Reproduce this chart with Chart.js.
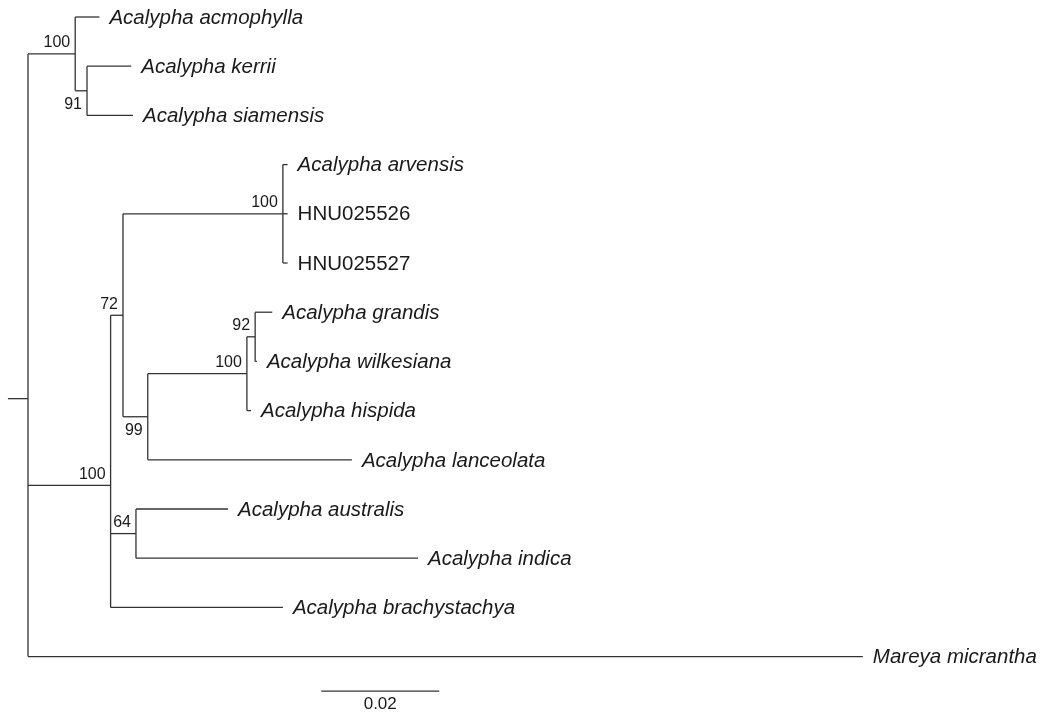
<!DOCTYPE html>
<html>
<head>
<meta charset="utf-8">
<script src="https://cdn.jsdelivr.net/npm/chart.js@4.4.1/dist/chart.umd.min.js"></script>
<style>
  html, body { margin: 0; padding: 0; background: #fff; }
  #wrap { width: 1042px; height: 714px; position: relative; }
</style>
</head>
<body>
<div id="wrap"><canvas id="arbre"></canvas></div>
<script>
// feuilles de l'arbre (ordre de haut en bas)
const tipNames = [
    'Acalypha acmophylla', 'Acalypha kerrii', 'Acalypha siamensis',
    'Acalypha arvensis', 'HNU025526', 'HNU025527',
    'Acalypha grandis', 'Acalypha wilkesiana', 'Acalypha hispida',
    'Acalypha lanceolata', 'Acalypha australis', 'Acalypha indica',
    'Acalypha brachystachya', 'Mareya micrantha'
];
const tipItalic = [true, true, true, true, false, false, true, true, true, true, true, true, true, true];
// profondeur des feuilles (substitutions/site depuis la racine)
const tipDepth = [0.0121, 0.0175, 0.0178, 0.0440, 0.0440, 0.0440, 0.0414, 0.0388, 0.0378, 0.0549, 0.0339, 0.0661, 0.0432, 0.1415];

// noeuds internes : n0 = racine
const nodeDepth = [0, 0.0080, 0.0100, 0.0140, 0.0161, 0.0432, 0.0203, 0.0371, 0.0385, 0.0183];
const nodeChildren = [
    ['n1', 'n3', 't13'],
    ['t0', 'n2'],
    ['t1', 't2'],
    ['n4', 'n9', 't12'],
    ['n5', 'n6'],
    ['t3', 't4', 't5'],
    ['n7', 't9'],
    ['n8', 't8'],
    ['t6', 't7'],
    ['t10', 't11']
];
// valeurs de bootstrap
const support = [null, 100, 91, 100, 72, 100, 99, 100, 92, 64];
const supportSide = [null, 'above', 'below', 'above', 'above', 'above', 'below', 'above', 'above', 'above'];

const rootStub = -0.0034;
const scaleBarStart = 0.0497;
const scaleBarLength = 0.02;
const scaleBarLabel = '0.02';

const LINE = '#333333';

// position verticale d'un element (feuille = son indice, noeud = moyenne des enfants)
function posY(id) {
    const i = parseInt(id.slice(1));
    if (id[0] === 't') return i;
    const ys = nodeChildren[i].map(posY);
    return ys.reduce((a, b) => a + b, 0) / ys.length;
}
function depth(id) {
    const i = parseInt(id.slice(1));
    return id[0] === 't' ? tipDepth[i] : nodeDepth[i];
}

function segment(x1, y1, x2, y2) {
    return {
        data: [{ x: x1, y: y1 }, { x: x2, y: y2 }],
        showLine: true,
        borderColor: LINE,
        borderWidth: 1.3,
        pointRadius: 0,
        fill: false
    };
}

const datasets = [];
nodeChildren.forEach((kids, i) => {
    const x = nodeDepth[i];
    const ys = kids.map(posY);
    datasets.push(segment(x, Math.min(...ys), x, Math.max(...ys))); // trait vertical
    kids.forEach(k => datasets.push(segment(x, posY(k), depth(k), posY(k)))); // branches
});
datasets.push(segment(rootStub, posY('n0'), 0, posY('n0')));
const scaleY = 13.70;
datasets.push(segment(scaleBarStart, scaleY, scaleBarStart + scaleBarLength, scaleY));

// plugin pour ecrire les noms et les supports
const textes = {
    id: 'textes',
    afterDatasetsDraw(chart) {
        const ctx = chart.ctx;
        const sx = chart.scales.x, sy = chart.scales.y;
        ctx.save();
        ctx.fillStyle = '#1a1a1a';
        ctx.textBaseline = 'middle';
        ctx.textAlign = 'left';
        tipNames.forEach((nom, i) => {
            ctx.font = (tipItalic[i] ? 'italic ' : '') + '20.5px "Liberation Sans", Arial, sans-serif';
            ctx.fillText(nom, sx.getPixelForValue(tipDepth[i]) + 10, sy.getPixelForValue(i) + 1);
        });
        ctx.font = '16px "Liberation Sans", Arial, sans-serif';
        ctx.textAlign = 'right';
        support.forEach((v, i) => {
            if (v === null) return;
            const px = sx.getPixelForValue(nodeDepth[i]) - 5;
            const py = sy.getPixelForValue(posY('n' + i));
            if (supportSide[i] === 'above') {
                ctx.textBaseline = 'bottom';
                ctx.fillText(String(v), px, py - 3);
            } else {
                ctx.textBaseline = 'top';
                ctx.fillText(String(v), px, py + 6);
            }
        });
        ctx.font = '17px "Liberation Sans", Arial, sans-serif';
        ctx.textAlign = 'center';
        ctx.textBaseline = 'middle';
        ctx.fillText(scaleBarLabel, sx.getPixelForValue(scaleBarStart + scaleBarLength / 2), sy.getPixelForValue(scaleY) + 13);
        ctx.restore();
    }
};

const PXU = 5900; // pixels par unite
const PYU = 49.2; // pixels par feuille
new Chart(document.getElementById('arbre'), {
    type: 'scatter',
    data: { datasets: datasets },
    options: {
        responsive: true,
        maintainAspectRatio: false,
        animation: false,
        events: [],
        layout: { padding: 0 },
        plugins: { legend: { display: false }, tooltip: { enabled: false } },
        scales: {
            x: { type: 'linear', display: false, min: -28 / PXU, max: (1042 - 28) / PXU },
            y: { type: 'linear', display: false, reverse: true, min: -17 / PYU, max: (714 - 17) / PYU }
        }
    },
    plugins: [textes]
});
</script>
</body>
</html>
